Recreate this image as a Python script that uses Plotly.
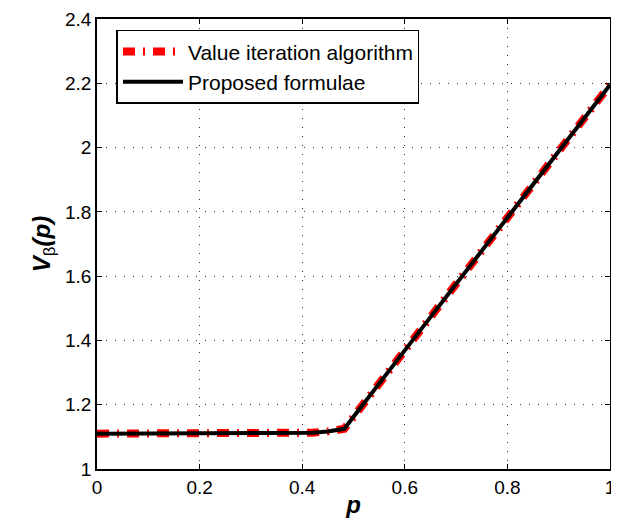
import plotly.graph_objects as go

p_vals = [0.0, 0.1, 0.2, 0.3, 0.38, 0.42, 0.45, 0.482, 0.6, 0.7, 0.8, 0.9, 1.0]
v_iter = [1.11, 1.11, 1.11, 1.11, 1.111, 1.113, 1.117, 1.125, 1.369, 1.576, 1.782, 1.989, 2.195]
v_formula = [1.11, 1.11, 1.11, 1.11, 1.111, 1.113, 1.117, 1.125, 1.369, 1.576, 1.782, 1.989, 2.195]

x_ticks = [0, 0.2, 0.4, 0.6, 0.8, 1]
x_labels = ["0", "0.2", "0.4", "0.6", "0.8", "1"]
y_ticks = [1, 1.2, 1.4, 1.6, 1.8, 2, 2.2, 2.4]
y_labels = ["1", "1.2", "1.4", "1.6", "1.8", "2", "2.2", "2.4"]

FONT = "Liberation Sans, Arial, Helvetica, sans-serif"

fig = go.Figure()
fig.add_trace(go.Scatter(
    x=p_vals, y=v_iter, mode="lines", name="Value iteration algorithm",
    line=dict(color="#ff0000", width=8, dash="12px,8px,2px,8px"),
))
fig.add_trace(go.Scatter(
    x=p_vals, y=v_formula, mode="lines", name="Proposed formulae",
    line=dict(color="black", width=4),
))

axis_common = dict(
    showline=True, linecolor="black", linewidth=1.5, mirror="ticks",
    ticks="inside", ticklen=5, tickcolor="black", tickwidth=1,
    showgrid=True, gridcolor="#333333", griddash="1px,8px", gridwidth=1,
    zeroline=False, automargin=False,
    tickfont=dict(family=FONT, size=19, color="black"),
)

fig.update_xaxes(
    range=[0, 1], tickvals=x_ticks, ticktext=x_labels,
    title=dict(text="<b><i>p</i></b>", font=dict(family=FONT, size=24, color="black"), standoff=0),
    **axis_common,
)
fig.update_yaxes(
    range=[1, 2.4], tickvals=y_ticks, ticktext=y_labels,
    title=dict(text="<b><i>V</i></b><sub>β</sub><b><i>(p)</i></b>", font=dict(family=FONT, size=24, color="black"), standoff=8),
    **axis_common,
)

fig.update_layout(
    width=619, height=518,
    margin=dict(l=89, r=17, t=11, b=57, autoexpand=False),
    plot_bgcolor="white", paper_bgcolor="white",
    font=dict(family=FONT, size=19, color="black"),
    showlegend=True,
    legend=dict(
        x=0.038, y=0.976, xanchor="left", yanchor="top",
        bgcolor="white", bordercolor="black", borderwidth=1.5,
        font=dict(family=FONT, size=21, color="black"),
        itemwidth=60, tracegroupgap=0,
    ),
)

fig.write_html("out.html")
